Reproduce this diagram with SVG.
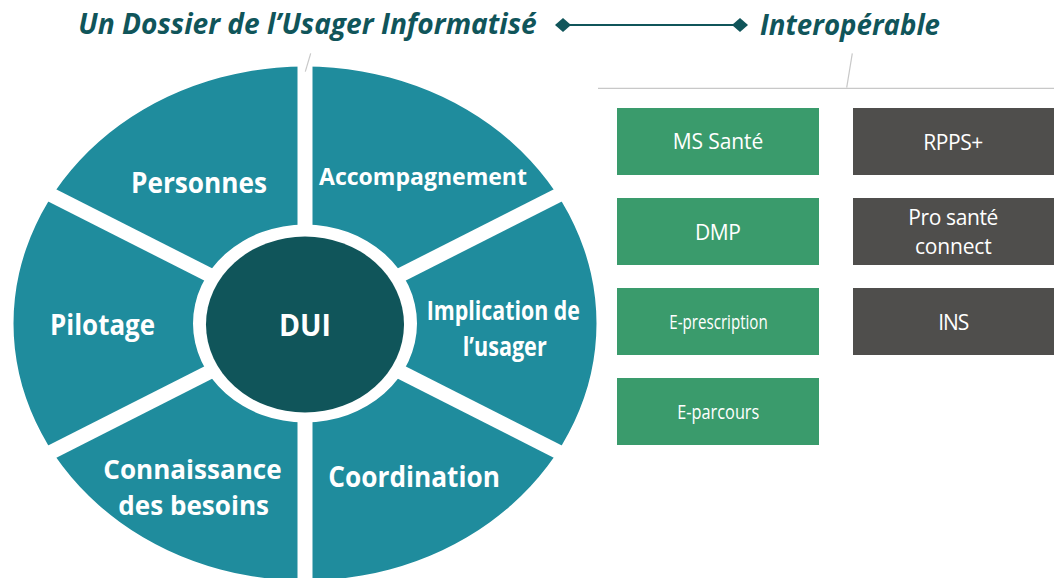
<svg xmlns="http://www.w3.org/2000/svg" width="1054" height="578" viewBox="0 0 1054 578">
<style>
.title{font-family:"Open Sans","Noto Sans",sans-serif;font-weight:700;font-style:italic;font-size:29px;fill:#10555a}
.sector{fill:#1f8c9d}
.slabel{font-family:"Open Sans","Noto Sans",sans-serif;font-weight:700;font-size:28px;fill:#ffffff}
.core{fill:#10555a}
.box-green{fill:#3a9b6c}
.box-gray{fill:#4f4e4c}
.blabel{font-family:"Open Sans","Noto Sans",sans-serif;font-weight:400;font-size:21px;fill:#ffffff;text-anchor:middle}
.tick{stroke:#c8c8c8;stroke-width:1.2;fill:none}
.link{stroke:#10555a;stroke-width:2;fill:none}
</style>
<defs>
<marker id="diamond" viewBox="0 0 16 14" refX="8" refY="7" markerWidth="16" markerHeight="14" markerUnits="userSpaceOnUse" orient="auto">
<path d="M0,7 L8,0 L16,7 L8,14 Z" fill="#10555a"/>
</marker>
<clipPath id="ring">
<path clip-rule="evenodd" d="M13.5,323.5 A291.5,257 0 1 0 596.5,323.5 A291.5,257 0 1 0 13.5,323.5 Z M193,323.5 A112,99 0 1 0 417,323.5 A112,99 0 1 0 193,323.5 Z"/>
</clipPath>
</defs>
<rect width="1054" height="578" fill="#ffffff"/>

<g id="title-dui">
<text class="title" x="78.3" y="34.3" textLength="458.4" lengthAdjust="spacingAndGlyphs">Un Dossier de l’Usager Informatisé</text>
</g>
<g id="title-interop">
<text class="title" x="760" y="35" textLength="180" lengthAdjust="spacingAndGlyphs">Interopérable</text>
</g>

<g id="connectors">
<line class="link" x1="563" y1="25" x2="740" y2="25" marker-start="url(#diamond)" marker-end="url(#diamond)"/>
<line class="tick" x1="310.7" y1="53.3" x2="305.3" y2="71.7"/>
<line class="tick" x1="852.3" y1="53.3" x2="846.7" y2="87.6"/>
<line class="tick" x1="598" y1="88.3" x2="1054" y2="88.3"/>
</g>

<g id="sector-personnes">
<g clip-path="url(#ring)"><path class="sector" d="M297.5,311.6 L297.5,-10 L-80,-10 L-66.3,127.1 Z"/></g>
<text class="slabel" x="131" y="193" textLength="136" lengthAdjust="spacingAndGlyphs">Personnes</text>
</g>
<g id="sector-accompagnement">
<g clip-path="url(#ring)"><path class="sector" transform="translate(610,0) scale(-1,1)" d="M297.5,311.6 L297.5,-10 L-80,-10 L-66.3,127.1 Z"/></g>
<text class="slabel" x="319" y="185" textLength="208" lengthAdjust="spacingAndGlyphs" style="font-size:24px">Accompagnement</text>
</g>
<g id="sector-pilotage">
<g clip-path="url(#ring)"><path class="sector" d="M289,323.5 L-72.9,140.1 L-72.9,506.9 Z"/></g>
<text class="slabel" x="50" y="335" textLength="105" lengthAdjust="spacingAndGlyphs">Pilotage</text>
</g>
<g id="sector-implication">
<g clip-path="url(#ring)"><path class="sector" transform="translate(610,0) scale(-1,1)" d="M289,323.5 L-72.9,140.1 L-72.9,506.9 Z"/></g>
<text class="slabel" x="426.7" y="320" textLength="153.3" lengthAdjust="spacingAndGlyphs" style="font-size:27px">Implication de</text>
<text class="slabel" x="462.7" y="356" textLength="84" lengthAdjust="spacingAndGlyphs" style="font-size:27px">l’usager</text>
</g>
<g id="sector-connaissance">
<g clip-path="url(#ring)"><path class="sector" transform="translate(0,647) scale(1,-1)" d="M297.5,311.6 L297.5,-10 L-80,-10 L-66.3,127.1 Z"/></g>
<text class="slabel" x="103.3" y="479" textLength="178.4" lengthAdjust="spacingAndGlyphs" style="font-size:27px">Connaissance</text>
<text class="slabel" x="118.3" y="515" textLength="150.7" lengthAdjust="spacingAndGlyphs" style="font-size:27px">des besoins</text>
</g>
<g id="sector-coordination">
<g clip-path="url(#ring)"><path class="sector" transform="translate(610,647) scale(-1,-1)" d="M297.5,311.6 L297.5,-10 L-80,-10 L-66.3,127.1 Z"/></g>
<text class="slabel" x="328.3" y="487.3" textLength="171.7" lengthAdjust="spacingAndGlyphs">Coordination</text>
</g>

<g id="core-dui">
<ellipse class="core" cx="305" cy="324.5" rx="99" ry="88"/>
<text class="slabel" x="305" y="335.7" textLength="52" lengthAdjust="spacingAndGlyphs" style="font-size:30px;text-anchor:middle">DUI</text>
</g>

<g id="box-mssante">
<rect class="box-green" x="617" y="108" width="202" height="67"/>
<text class="blabel" x="718" y="149.3" textLength="90.6">MS Santé</text>
</g>
<g id="box-dmp">
<rect class="box-green" x="617" y="198" width="202" height="67"/>
<text class="blabel" x="718" y="240" textLength="46">DMP</text>
</g>
<g id="box-eprescription">
<rect class="box-green" x="617" y="288" width="202" height="67"/>
<text class="blabel" x="718.5" y="329.3" textLength="98.4" lengthAdjust="spacingAndGlyphs" style="font-size:20px">E-prescription</text>
</g>
<g id="box-eparcours">
<rect class="box-green" x="617" y="378" width="202" height="67"/>
<text class="blabel" x="718.3" y="419.3" textLength="82" lengthAdjust="spacingAndGlyphs" style="font-size:20px">E-parcours</text>
</g>
<g id="box-rpps">
<rect class="box-gray" x="853" y="108" width="202" height="67"/>
<text class="blabel" x="953.3" y="150" textLength="60">RPPS+</text>
</g>
<g id="box-prosante">
<rect class="box-gray" x="853" y="198" width="202" height="67"/>
<text class="blabel" x="953.3" y="225" textLength="90">Pro santé</text>
<text class="blabel" x="953.3" y="254" textLength="76.7">connect</text>
</g>
<g id="box-ins">
<rect class="box-gray" x="853" y="288" width="202" height="67"/>
<text class="blabel" x="953.8" y="330" textLength="31">INS</text>
</g>
</svg>
